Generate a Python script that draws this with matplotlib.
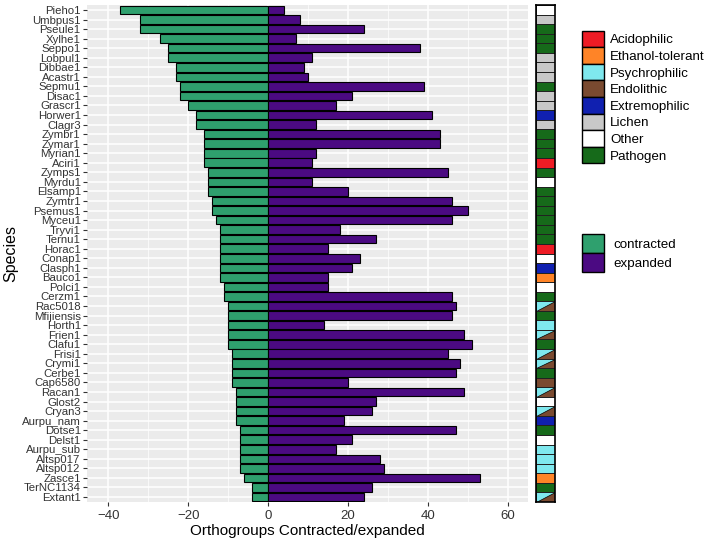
import numpy as np
import matplotlib.pyplot as plt
from matplotlib.patches import Patch

plt.rcParams['font.family'] = ['Liberation Sans', 'DejaVu Sans']

## Data (top row first)
species = ['Pieho1', 'Umbpus1', 'Pseule1', 'Xylhe1', 'Seppo1', 'Lobpul1', 'Dibbae1', 'Acastr1',
           'Sepmu1', 'Disac1', 'Grascr1', 'Horwer1', 'Clagr3', 'Zymbr1', 'Zymar1', 'Myrian1',
           'Aciri1', 'Zymps1', 'Myrdu1', 'Elsamp1', 'Zymtr1', 'Psemus1', 'Myceu1', 'Tryvi1',
           'Ternu1', 'Horac1', 'Conap1', 'Clasph1', 'Bauco1', 'Polci1', 'Cerzm1', 'Rac5018',
           'Mfijiensis', 'Horth1', 'Frien1', 'Clafu1', 'Frisi1', 'Crymi1', 'Cerbe1', 'Cap6580',
           'Racan1', 'Glost2', 'Cryan3', 'Aurpu_nam', 'Dotse1', 'Delst1', 'Aurpu_sub',
           'Altsp017', 'Altsp012', 'Zasce1', 'TerNC1134', 'Extant1']

contracted = [-37, -32, -32, -27, -25, -25, -23, -23, -22, -22, -20, -18, -18, -16, -16, -16,
              -16, -15, -15, -15, -14, -14, -13, -12, -12, -12, -12, -12, -12, -11, -11, -10,
              -10, -10, -10, -10, -9, -9, -9, -9, -8, -8, -8, -8, -7, -7, -7, -7, -7, -6, -4, -4]

expanded = [4, 8, 24, 7, 38, 11, 9, 10, 39, 21, 17, 41, 12, 43, 43, 12, 11, 45, 11, 20,
            46, 50, 46, 18, 27, 15, 23, 21, 15, 15, 46, 47, 46, 14, 49, 51, 45, 48, 47, 20,
            49, 27, 26, 19, 47, 21, 17, 28, 29, 53, 26, 24]

PE = 'Psychrophilic/Endolithic'
lifestyle = ['Other', 'Lichen', 'Pathogen', 'Pathogen', 'Pathogen', 'Lichen', 'Lichen', 'Lichen',
             'Pathogen', 'Lichen', 'Lichen', 'Extremophilic', 'Lichen', 'Pathogen', 'Pathogen',
             'Pathogen', 'Acidophilic', 'Pathogen', 'Other', 'Pathogen', 'Pathogen', 'Pathogen',
             'Pathogen', 'Pathogen', 'Pathogen', 'Acidophilic', 'Other', 'Extremophilic',
             'Ethanol-tolerant', 'Other', 'Pathogen', PE, 'Pathogen', 'Psychrophilic', PE,
             'Pathogen', PE, PE, 'Pathogen', 'Endolithic', PE, 'Other', PE, 'Extremophilic',
             'Pathogen', 'Other', 'Psychrophilic', 'Psychrophilic', 'Psychrophilic',
             'Ethanol-tolerant', 'Pathogen', PE]

life_cols = {'Acidophilic': '#EE1C25', 'Ethanol-tolerant': '#FF8427', 'Psychrophilic': '#7FE8EE',
             'Endolithic': '#7A4A30', 'Extremophilic': '#1020B0', 'Lichen': '#C8C8C8',
             'Other': '#FFFFFF', 'Pathogen': '#166A1A'}
c_col = '#2FA06E'
e_col = '#4B0A82'

W, H = 708, 545
fig = plt.figure(figsize=(W / 100, H / 100), dpi=100)
n = len(species)
y = np.arange(n)

## Main panel
ax = fig.add_axes([87 / W, 1 - 502 / H, (528 - 87) / W, 497 / H])
ax.barh(y, contracted, height=0.9, color=c_col, edgecolor='black', linewidth=0.8)
ax.barh(y, expanded, height=0.9, color=e_col, edgecolor='black', linewidth=0.8)
ax.set_xlim(-45.3, 65)
ax.set_ylim(n - 0.48, -0.52)
ax.set_facecolor('#EBEBEB')
ax.set_xticks([-40, -20, 0, 20, 40, 60])
ax.set_xticks([-30, -10, 10, 30, 50], minor=True)
ax.set_yticks(y, species)
ax.grid(which='major', color='white', linewidth=1.1)
ax.grid(which='minor', axis='x', color='white', linewidth=0.5)
ax.set_axisbelow(True)
for s in ax.spines.values():
    s.set_visible(False)
ax.tick_params(which='major', color='#333333', length=3, labelcolor='#333333')
ax.tick_params(which='minor', length=0)
ax.tick_params(axis='y', labelsize=8.2, pad=1.5)
ax.tick_params(axis='x', labelsize=9.5, pad=3)
ax.set_xlabel('Orthogroups Contracted/expanded', fontsize=11, labelpad=1)
ax.set_ylabel('Species', fontsize=11.5)
ax.yaxis.set_label_coords((18 - 87) / 441, 0.5)

## Lifestyle strip
sx = fig.add_axes([536 / W, 1 - 502 / H, 19 / W, 497 / H])
base = [life_cols['Psychrophilic'] if l == PE else life_cols[l] for l in lifestyle]
sx.barh(y, 1, height=1, color=base, edgecolor='none')
for i, l in enumerate(lifestyle):
    if l == PE:
        sx.fill([1, 1, 0], [i - 0.5, i + 0.5, i + 0.5], color=life_cols['Endolithic'],
                edgecolor='black', linewidth=0.5)
sx.barh(y, 1, height=1, color='none', edgecolor='#222222', linewidth=0.7)
sx.set_xlim(0, 1)
sx.set_ylim(n - 0.48, -0.52)
sx.set_xticks([])
sx.set_yticks([])
for s in sx.spines.values():
    s.set_linewidth(1.2)

## Legends
fs = 9.6
px = fs * 100 / 72
hl = [Patch(facecolor=life_cols[k], edgecolor='black', label=k) for k in life_cols]
fig.legend(handles=hl, loc='upper left', bbox_to_anchor=(582 / W, 1 - 30.7 / H),
           frameon=False, fontsize=fs, handlelength=22 / px, handleheight=20.5 / px,
           labelspacing=0, borderpad=0, borderaxespad=0, handletextpad=6 / px)
h2 = [Patch(facecolor=c_col, edgecolor='black', label='contracted'),
      Patch(facecolor=e_col, edgecolor='black', label='expanded')]
fig.legend(handles=h2, loc='upper left', bbox_to_anchor=(582 / W, 1 - 234 / H),
           frameon=False, fontsize=fs, handlelength=22 / px, handleheight=24 / px,
           labelspacing=0, borderpad=0, borderaxespad=0, handletextpad=9 / px)

fig.savefig('out.png', dpi=100)
